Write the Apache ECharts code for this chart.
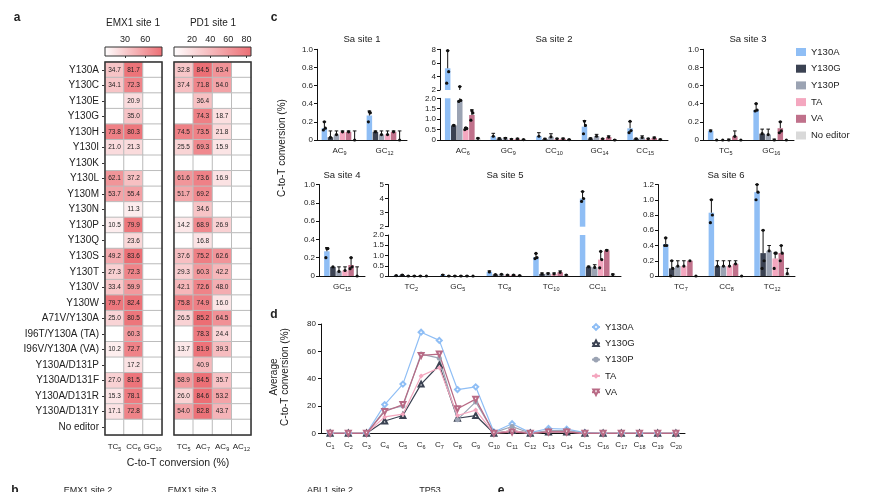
<!DOCTYPE html>
<html><head><meta charset="utf-8">
<script src="https://cdn.jsdelivr.net/npm/echarts@6/dist/echarts.min.js"></script>
<style>html,body{margin:0;padding:0;background:#fff}#c{width:870px;height:492px}</style>
</head><body><div id="c"></div><script>
const FONT = '"Liberation Sans", Arial, Helvetica, sans-serif';

// ---------- Panel a (heatmaps) ----------
const hmRows = ['Y130A','Y130C','Y130E','Y130G','Y130H','Y130I','Y130K','Y130L','Y130M','Y130N','Y130P','Y130Q','Y130S','Y130T','Y130V','Y130W','A71V/Y130A','I96T/Y130A (TA)','I96V/Y130A (VA)','Y130A/D131P','Y130A/D131F','Y130A/D131R','Y130A/D131Y','No editor'];
const emxCols = ['TC5','CC6','GC10'];
const pd1Cols = ['TC5','AC7','AC9','AC12'];
const emxVals = [
 [34.7,81.7,null],[34.1,72.3,null],[null,20.9,null],[null,35.0,null],[73.8,80.3,null],[21.0,21.3,null],[null,null,null],
 [62.1,37.2,null],[53.7,55.4,null],[null,11.3,null],[10.5,79.9,null],[null,23.6,null],[49.2,83.6,null],[27.3,72.3,null],
 [33.4,59.9,null],[79.7,82.4,null],[25.0,80.5,null],[null,60.3,null],[10.2,72.7,null],[null,17.2,null],[27.0,81.5,null],
 [15.3,78.1,null],[17.1,72.8,null],[null,null,null]];
const pd1Vals = [
 [32.8,84.5,63.4,null],[37.4,71.8,54.0,null],[null,36.4,null,null],[null,74.3,18.7,null],[74.5,73.5,21.8,null],[25.5,69.3,15.9,null],[null,null,null,null],
 [61.6,73.6,16.9,null],[51.7,69.2,null,null],[null,34.6,null,null],[14.2,68.9,26.9,null],[null,16.8,null,null],[37.6,75.2,62.6,null],[29.3,60.3,42.2,null],
 [42.1,72.6,48.0,null],[75.8,74.9,16.0,null],[26.5,85.2,64.5,null],[null,78.3,24.4,null],[13.7,81.9,39.3,null],[null,40.9,null,null],[58.9,84.5,35.7,null],
 [26.0,84.6,53.2,null],[54.0,82.8,43.7,null],[null,null,null,null]];
const scaleMax = 85;
const emxTickStep = 30;
const pd1TickStep = 20;

// ---------- Panel c (bar charts) ----------
const editors = ['Y130A','Y130G','Y130P','TA','VA','No editor'];

const sa1Cats = ['AC9','GC12'];
const sa1Mean = [[0.13,0.27],[0.03,0.09],[0.06,0.06],[0.09,0.06],[0.09,0.09],[0,0]];
const sa1Top  = [[0.2,0.32],[0.1,0.1],[0.1,0.1],[0.1,0.1],[0.1,0.1],[0.1,0.1]];
const sa1Dots = [[0,0,[0.11,0.13,0.2]],[0,1,[0.2,0.3,0.31]]];

const sa2Cats = ['AC6','GC9','CC10','GC14','CC15'];
const sa2Mean = [[5.2,0.18,0.18,0.64,0.56],[0.7,0.07,0.04,0.07,0.06],[1.9,0.08,0.15,0.18,0.12],[0.5,0.03,0.05,0.05,0.05],[1.2,0.05,0.06,0.14,0.1],[0.08,0.02,0.02,0,0.02]];
const sa2Top  = [[7.8,0.32,0.35,0.93,0.88],[0.72,0.1,0.08,0.1,0.08],[2.5,0.12,0.3,0.27,0.2],[0.6,0.06,0.08,0.07,0.08],[1.45,0.08,0.09,0.2,0.14],[0.1,0.03,0.03,0.02,0.04]];
const sa2Dots = [[0,0,[3.0,4.7,7.8]],[2,0,[1.85,1.9,2.5]],[4,0,[0.95,1.3,1.4]],[3,0,[0.5,0.55,0.58]],[0,3,[0.3,0.7,0.9]],[0,4,[0.35,0.45,0.9]]];

const sa3Cats = ['TC5','GC16'];
const sa3Mean = [[0.1,0.33],[0,0.07],[0,0.06],[0,0],[0.04,0.13],[0,0]];
const sa3Top  = [[0.11,0.4],[0,0.12],[0,0.12],[0.01,0.01],[0.1,0.2],[0,0]];
const sa3Dots = [[0,1,[0.32,0.33,0.4]],[4,1,[0.08,0.1,0.2]]];

const sa4Cats = ['GC15'];
const sa4Mean = [[0.27],[0.1],[0.05],[0.06],[0.12],[0]];
const sa4Top  = [[0.31],[0.1],[0.1],[0.1],[0.2],[0.1]];
const sa4Dots = [[0,0,[0.2,0.3,0.3]],[4,0,[0.08,0.1,0.2]]];

const sa5Cats = ['TC2','GC5','TC8','TC10','CC11'];
const sa5Mean = [[0.02,0.05,0.2,0.92,4.0],[0.05,0,0.07,0.1,0.45],[0,0,0.08,0.12,0.42],[0,0,0.04,0.1,0.8],[0,0,0.04,0.18,1.25],[0,0,0.02,0.05,0.07]];
const sa5Top  = [[0.03,0.07,0.25,1.1,4.5],[0.07,0.01,0.08,0.15,0.48],[0.01,0.01,0.09,0.15,0.55],[0.01,0.01,0.06,0.15,1.2],[0.01,0.01,0.06,0.25,1.28],[0,0,0.03,0.06,0.1]];
const sa5Dots = [[0,3,[0.85,0.9,1.1]],[0,4,[3.8,4.0,4.5]],[3,4,[0.4,0.8,1.2]]];

const sa6Cats = ['TC7','CC8','TC12'];
const sa6Mean = [[0.42,0.83,1.1],[0.1,0.13,0.3],[0.13,0.13,0.33],[0.13,0.13,0.23],[0.2,0.16,0.3],[0,0,0.03]];
const sa6Top  = [[0.5,1.0,1.2],[0.2,0.2,0.6],[0.2,0.2,0.4],[0.2,0.2,0.3],[0.2,0.2,0.4],[0,0,0.1]];
const sa6Dots = [[0,0,[0.4,0.4,0.5]],[0,1,[0.7,0.8,1.0]],[0,2,[1.0,1.1,1.2]],[1,0,[0,0.1,0.2]],[1,2,[0.1,0.2,0.6]],[3,2,[0.1,0.3,0.3]],[4,2,[0.2,0.3,0.4]]];

// ---------- Panel d (lines) ----------
const posCats = ['C1','C2','C3','C4','C5','C6','C7','C8','C9','C10','C11','C12','C13','C14','C15','C16','C17','C18','C19','C20'];
const lineEditors = ['Y130A','Y130G','Y130P','TA','VA'];
const lineY130A = [0,0,0,21,36,74,68,32,34,1,7,0.5,3.5,3,0.5,0,0,0,0,0];
const lineY130G = [0,0,0,9,13,36,50,11,13,0,2,0,1,1,0,0,0,0,0,0];
const lineY130P = [0,0,0,17,20,58,55,10,23,0.5,5,0,2,2,0,0,0,0,0,0];
const lineTA    = [0,0,0,12,14,42,48,13,17,0,2,0,1,1,0,0,0,0,0,0];
const lineVA    = [0,0,0,16,21,57,58,18,25,0,1,0,1,1,0,0,0,0,0,0];

// ---------- styles ----------
const edColors = ['#8fbef5','#3b4252','#9ba3b3','#f4a7bf','#c0718b','#d9d9d9'];
const lineColors = ['#8fbef5','#3b4252','#9ba3b3','#f4a7bf','#b86a85'];
const lineSymbols = ['emptyDiamond','emptyTriangle','circle','diamond','emptyTriangle'];
const lineSymbolRot = [0,0,0,0,180];
const TXT = '#222';

function sub(v){ const m = String(v).match(/^([A-Za-z]+)(\d+)$/); return m ? '{m|'+m[1]+'}{s|'+m[2]+'}' : v; }
function subRich(fs, sfs){ return { m:{fontSize:fs,color:TXT,fontFamily:FONT}, s:{fontSize:sfs,color:TXT,fontFamily:FONT,padding:[Math.round(fs*0.6),0,0,0]} }; }

const option = { animation:false, textStyle:{fontFamily:FONT}, grid:[], xAxis:[], yAxis:[], series:[], visualMap:[], legend:[], graphic:[] };
function addCart(g, xa, ya){ const i = option.grid.length; option.grid.push(g); option.xAxis.push(Object.assign({gridIndex:i}, xa)); option.yAxis.push(Object.assign({gridIndex:i}, ya)); return i; }
function txt(text, x, y, size, opt){ opt = opt||{};
  option.graphic.push({type:'text', x:x, y:y, rotation:opt.rot||0, silent:true, z:10,
    style:{text:text, fill:TXT, font:(opt.bold?'bold ':'')+size+'px '+FONT, textAlign:opt.align||'center', textVerticalAlign:opt.va||'middle', align:opt.align||'center', verticalAlign:opt.va||'middle'}});
}

// ---------- heatmaps ----------
function heatmap(cols, vals, left, width, showY){
  const gi = addCart({left:left, top:62, width:width, height:373},
    {type:'category', data:cols, position:'bottom', axisLine:{show:false}, axisTick:{show:false}, splitLine:{show:false},
     axisLabel:{formatter:sub, rich:subRich(8,5.5), margin:6, interval:0}},
    {type:'category', data:hmRows, inverse:true, axisLine:{show:false}, splitLine:{show:false},
     axisTick:{show:showY, length:3, alignWithLabel:true, lineStyle:{color:'#333'}},
     axisLabel:{show:showY, fontSize:10, color:TXT, margin:6, interval:0}});
  const data = [];
  vals.forEach((row, r) => row.forEach((v, c) => data.push([c, r, v == null ? 0 : v, v == null ? 0 : 1])));
  const si = option.series.length;
  option.series.push({type:'heatmap', xAxisIndex:gi, yAxisIndex:gi, data:data,
    itemStyle:{borderColor:'#bcbcbc', borderWidth:1},
    label:{show:true, fontSize:6.5, color:'#222', formatter:p => p.value[3] ? p.value[2].toFixed(1) : ''}});
  option.visualMap.push({show:false, seriesIndex:si, dimension:2, min:0, max:scaleMax, inRange:{color:['#ffffff','#ec6e74']}});
  option.series.push({type:'custom', xAxisIndex:gi, yAxisIndex:gi, z:4, silent:true, data:[[0,0]],
    renderItem:(p, api) => { const cs = p.coordSys; return {type:'rect', shape:{x:cs.x, y:cs.y, width:cs.width, height:cs.height}, style:{fill:'none', stroke:'#333', lineWidth:1.5}}; }});
  return gi;
}
function colorbar(left, width, step){
  const gi = addCart({left:left, top:47, width:width, height:9},
    {type:'value', min:0, max:scaleMax, interval:step, position:'top', splitLine:{show:false}, axisLine:{show:false},
     axisTick:{show:true, inside:true, length:2, lineStyle:{color:'#333'}},
     axisLabel:{fontSize:9, color:TXT, margin:3, showMinLabel:false, showMaxLabel:false, formatter:v => (v===0||v>=scaleMax)?'':String(v)}},
    {type:'value', min:0, max:1, show:false});
  option.series.push({type:'custom', xAxisIndex:gi, yAxisIndex:gi, silent:true, data:[[0,0]],
    renderItem:(p, api) => { const cs = p.coordSys; return {type:'rect', shape:{x:cs.x, y:cs.y, width:cs.width, height:cs.height},
      style:{fill:new echarts.graphic.LinearGradient(0,0,1,0,[{offset:0,color:'#ffffff'},{offset:1,color:'#ec6e74'}]), stroke:'#333', lineWidth:1}}; }});
}
heatmap(emxCols, emxVals, 105, 57, true);
heatmap(pd1Cols, pd1Vals, 174, 77, false);
colorbar(105, 57, emxTickStep);
colorbar(174, 77, pd1TickStep);

// ---------- bar panels ----------
const BW = 5.5, GAPR = 0.1;
function numFmt(step){ return v => v === 0 ? '0' : (step < 1 ? v.toFixed(1) : String(v)); }
function barPanel(cats, mean, top, dots, left, width, parts){
  parts.forEach((pt, k) => {
    const bottomPart = k === parts.length - 1;
    const gi = addCart({left:left, top:pt.top, width:width, height:pt.height},
      {type:'category', data:cats, show:bottomPart, axisLine:{lineStyle:{color:'#111', width:1}},
       axisTick:{alignWithLabel:true, length:3, lineStyle:{color:'#111'}},
       axisLabel:{formatter:sub, rich:subRich(8,5.5), margin:5, interval:0}},
      {type:'value', min:pt.min, max:pt.max, interval:pt.step, splitLine:{show:false},
       axisLine:{show:true, lineStyle:{color:'#111', width:1}}, axisTick:{show:true, length:3, lineStyle:{color:'#111'}},
       axisLabel:{fontSize:8, color:TXT, margin:4, formatter:numFmt(pt.step)}});
    editors.forEach((ed, e) => {
      option.series.push({type:'bar', name:ed, xAxisIndex:gi, yAxisIndex:gi, barWidth:BW, barGap:(GAPR*100)+'%', clip:true,
        itemStyle:{color:edColors[e]}, silent:true,
        data: mean[e].map(v => pt.min > 0 ? (v > pt.min ? v : '-') : Math.min(v, pt.max))});
    });
    const items = [];
    editors.forEach((ed, e) => cats.forEach((c, ci) => {
      const d = dots.find(t => t[0] === e && t[1] === ci);
      items.push({c:ci, e:e, m:mean[e][ci], t:top[e][ci], d: d ? d[2] : [mean[e][ci]]});
    }));
    const lo = pt.min, hi = pt.max;
    option.series.push({type:'custom', xAxisIndex:gi, yAxisIndex:gi, z:5, silent:true,
      data: items.map(it => [it.c, it.m]),
      renderItem:(params, api) => {
        const it = items[params.dataIndex];
        const cs = params.coordSys;
        const x = api.coord([it.c, lo])[0] + (it.e - 2.5) * BW * (1 + GAPR);
        const yOf = v => api.coord([it.c, v])[1];
        const cl = y => Math.max(cs.y, Math.min(cs.y + cs.height, y));
        const ch = [];
        if (it.t > it.m) {
          const y1 = cl(yOf(it.m)), y2 = cl(yOf(it.t));
          if (Math.abs(y1 - y2) > 0.3) ch.push({type:'line', shape:{x1:x, y1:y1, x2:x, y2:y2}, style:{stroke:'#111', lineWidth:1}});
          if (it.t >= lo && it.t <= hi) ch.push({type:'line', shape:{x1:x-1.8, y1:y2, x2:x+1.8, y2:y2}, style:{stroke:'#111', lineWidth:1}});
        }
        const offs = it.d.length === 3 ? [-1, 1, 0] : [0];
        it.d.forEach((dv, j) => {
          if (dv >= lo && dv <= hi) ch.push({type:'circle', shape:{cx:x + (offs[j]||0), cy:yOf(dv), r:1.6}, style:{fill:'#111'}});
        });
        return {type:'group', children:ch};
      }});
  });
}
barPanel(sa1Cats, sa1Mean, sa1Top, sa1Dots, 317, 90, [{top:49.3, height:90.7, min:0, max:1, step:0.2}]);
barPanel(sa2Cats, sa2Mean, sa2Top, sa2Dots, 440, 228, [{top:49.3, height:40.7, min:2, max:8, step:2},{top:98.3, height:41.7, min:0, max:2, step:0.5}]);
barPanel(sa3Cats, sa3Mean, sa3Top, sa3Dots, 703, 91, [{top:49.3, height:90.7, min:0, max:1, step:0.2}]);
barPanel(sa4Cats, sa4Mean, sa4Top, sa4Dots, 319, 46, [{top:184.5, height:91.5, min:0, max:1, step:0.2}]);
barPanel(sa5Cats, sa5Mean, sa5Top, sa5Dots, 388, 233, [{top:184.5, height:42.2, min:2, max:5, step:1},{top:235, height:41, min:0, max:2, step:0.5}]);
barPanel(sa6Cats, sa6Mean, sa6Top, sa6Dots, 658, 137, [{top:184.5, height:91.5, min:0, max:1.2, step:0.2}]);

// ---------- line panel ----------
const gd = addCart({left:321, top:324, width:364, height:109.3},
  {type:'category', data:posCats, boundaryGap:true, axisLine:{lineStyle:{color:'#111'}},
   axisTick:{alignWithLabel:true, length:3, lineStyle:{color:'#111'}},
   axisLabel:{formatter:sub, rich:subRich(8,5.5), margin:6, interval:0}},
  {type:'value', min:0, max:80, interval:20, splitLine:{show:false}, axisLine:{show:true, lineStyle:{color:'#111'}},
   axisTick:{show:true, length:3, lineStyle:{color:'#111'}}, axisLabel:{fontSize:8, color:TXT, margin:5}});
const lineSets = [lineY130A, lineY130G, lineY130P, lineTA, lineVA];
lineSets.forEach((arr, i) => {
  option.series.push({type:'line', name:lineEditors[i] + ' ', xAxisIndex:gd, yAxisIndex:gd, data:arr,
    symbol:lineSymbols[i], symbolRotate:lineSymbolRot[i], symbolSize:5, showAllSymbol:true,
    itemStyle:{color:lineColors[i], borderWidth:1}, lineStyle:{color:lineColors[i], width:1.2}, silent:true});
});

// ---------- legends ----------
option.legend.push({orient:'vertical', left:796, top:47, padding:0, itemWidth:10, itemHeight:8, itemGap:6.7, icon:'rect', selectedMode:false,
  data:editors, textStyle:{fontSize:9.5, color:TXT}});
option.legend.push({orient:'vertical', left:591, top:322, padding:0, itemWidth:8, itemHeight:7, itemGap:6.3, selectedMode:false,
  data:lineEditors.map(n => n + ' '), textStyle:{fontSize:9.5, color:TXT}});

// ---------- texts ----------
txt('a', 17, 18, 12, {bold:true});
txt('c', 274, 18, 12, {bold:true});
txt('d', 274, 315, 12, {bold:true});
txt('b', 15, 491, 12, {bold:true});
txt('e', 501, 491, 12, {bold:true});
txt('EMX1 site 1', 133, 23, 10);
txt('PD1 site 1', 213, 23, 10);
txt('C-to-T conversion (%)', 178, 463, 10.5);
txt('Sa site 1', 362, 39, 9.5);
txt('Sa site 2', 554, 39, 9.5);
txt('Sa site 3', 748, 39, 9.5);
txt('Sa site 4', 342, 175, 9.5);
txt('Sa site 5', 505, 175, 9.5);
txt('Sa site 6', 726, 175, 9.5);
txt('C-to-T conversion (%)', 282, 148, 10, {rot:Math.PI/2});
txt('Average', 274, 377, 10, {rot:Math.PI/2});
txt('C-to-T conversion (%)', 285, 377, 10, {rot:Math.PI/2});
txt('EMX1 site 2', 88, 491, 9);
txt('EMX1 site 3', 192, 491, 9);
txt('ABL1 site 2', 330, 491, 9);
txt('TP53', 430, 491, 9);

const chart = echarts.init(document.getElementById('c'), null, {renderer:'canvas'});
chart.setOption(option);
</script></body></html>
